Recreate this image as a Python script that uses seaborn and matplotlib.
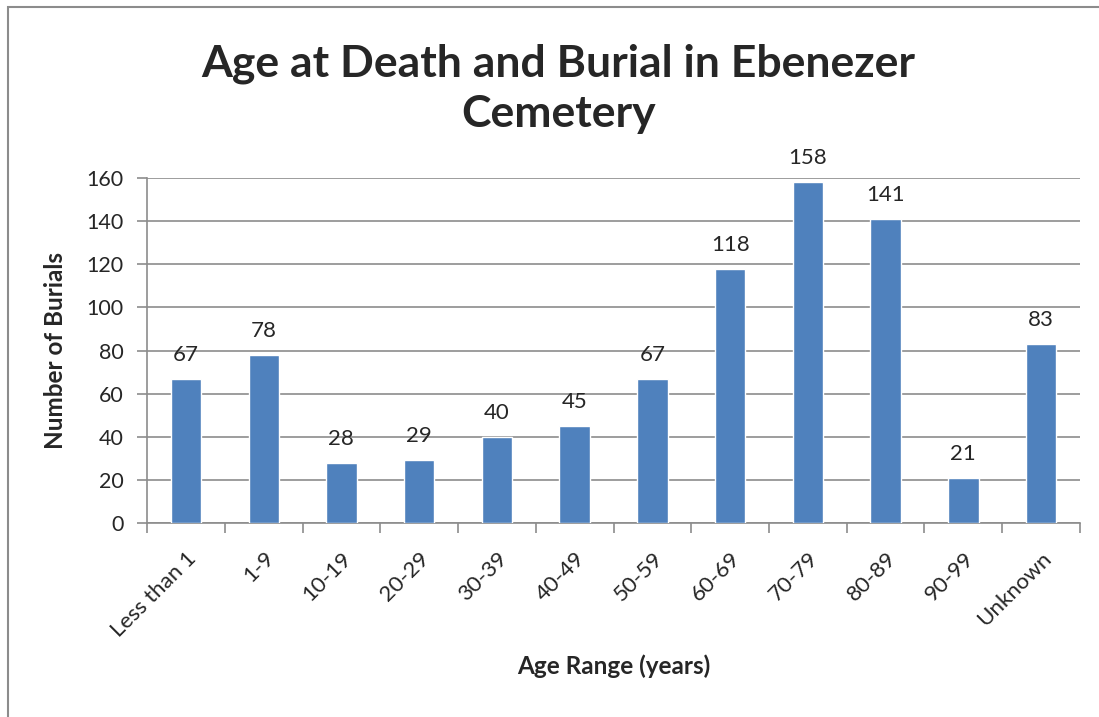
import matplotlib
matplotlib.use("Agg")
import matplotlib.pyplot as plt
import seaborn as sns
import pandas as pd
from matplotlib.patches import Rectangle

# data
age_ranges = ["Less than 1", "1-9", "10-19", "20-29", "30-39", "40-49",
              "50-59", "60-69", "70-79", "80-89", "90-99", "Unknown"]
burials = [67, 78, 28, 29, 40, 45, 67, 118, 158, 141, 21, 83]
y_ticks = [0, 20, 40, 60, 80, 100, 120, 140, 160]

df = pd.DataFrame({"Age Range": age_ranges, "Burials": burials})

sns.set_style("white")
plt.rcParams["font.family"] = ["Lato", "DejaVu Sans"]

fig = plt.figure(figsize=(10.99, 7.17), dpi=100)
ax = fig.add_axes([0.1338, 0.2706, 0.8489, 0.4811])

sns.barplot(data=df, x="Age Range", y="Burials", color="#4F81BD",
            width=0.39, saturation=1, ax=ax, zorder=3)

# value labels above bars
for i, v in enumerate(burials):
    ax.text(i, v + 6.5, str(v), ha="center", va="bottom", fontsize=16)

ax.set_ylim(0, 160)
ax.set_xlim(-0.5, len(age_ranges) - 0.5)
ax.set_yticks(y_ticks)
ax.set_yticklabels([str(t) for t in y_ticks], fontsize=15.5)
ax.yaxis.grid(True, color="#8C8C8C", linewidth=1.2, zorder=0)

# x ticks between categories like Excel
ax.set_xticks([i - 0.5 for i in range(len(age_ranges) + 1)], minor=False)
ax.set_xticklabels([""] * (len(age_ranges) + 1))
ax.set_xticks(range(len(age_ranges)), minor=True)
ax.set_xticklabels(age_ranges, minor=True, rotation=45, ha="right",
                   rotation_mode="anchor", fontsize=16)
ax.tick_params(axis="x", which="minor", length=0, pad=18)
ax.tick_params(axis="x", which="major", length=7, width=1.2, color="#8C8C8C",
               direction="out", bottom=True)
ax.tick_params(axis="y", length=7, width=1.2, color="#8C8C8C",
               direction="out", left=True, pad=10)

for side in ["top", "right"]:
    ax.spines[side].set_visible(False)
for side in ["left", "bottom"]:
    ax.spines[side].set_color("#8C8C8C")
    ax.spines[side].set_linewidth(1.2)

ax.set_xlabel("Age Range (years)", fontsize=17.5, fontweight="bold", labelpad=10)
ax.set_ylabel("Number of Burials", fontsize=17.5, fontweight="bold", labelpad=14)

fig.text(0.508, 0.876, "Age at Death and Burial in Ebenezer\nCemetery",
         ha="center", va="center", fontsize=32, fontweight="bold",
         linespacing=1.3)

# outer chart frame (partly cropped in the reference)
fig.patches.append(Rectangle((8 / 1099, -0.1), 1.2, (717 - 7) / 717 + 0.1,
                             transform=fig.transFigure, fill=False,
                             edgecolor="#8C8C8C", linewidth=1.5))

fig.savefig("out.png", dpi=100)
